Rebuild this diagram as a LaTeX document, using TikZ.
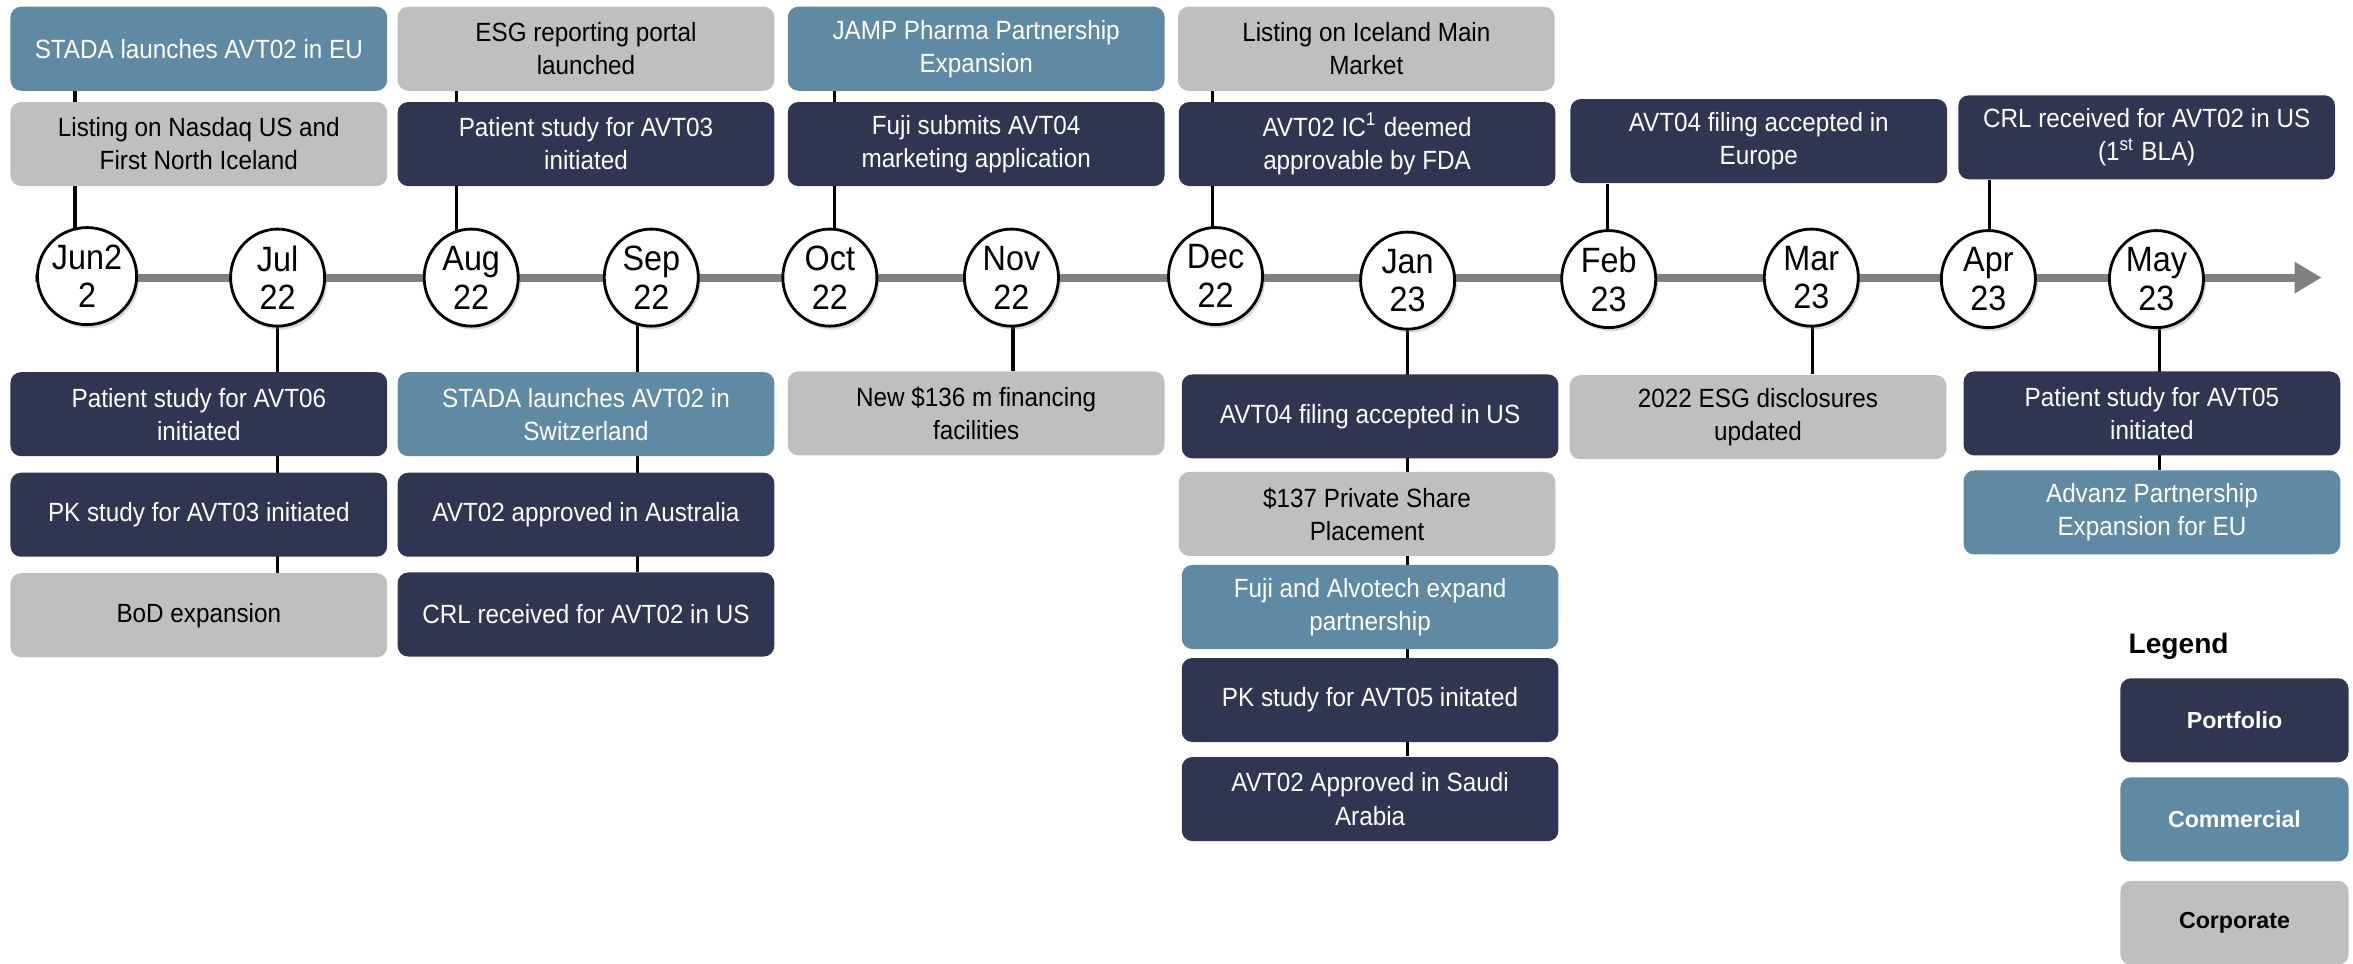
\documentclass[tikz,border=0pt]{standalone}
\usepackage{fontspec}
\setmainfont{Liberation Sans}
\newfontfamily\condfont[FakeStretch=0.92]{Liberation Sans}
\usepackage{tikz}
\usetikzlibrary{shapes.geometric, shadows, backgrounds, arrows.meta}
\definecolor{portfolio}{RGB}{48,53,82}
\definecolor{commercial}{RGB}{96,138,163}
\definecolor{corporate}{RGB}{191,191,191}
\definecolor{axisgray}{RGB}{128,128,128}

\begin{document}
\begin{tikzpicture}[%
x=0.015cm, y=-0.015cm,
event/.style={rounded corners=3pt, minimum width=3.765cm, minimum height=0.84cm,
    inner sep=0pt, align=center, font=\condfont\fontsize{7.5}{9.4}\selectfont},
port/.style={event, fill=portfolio, text=white},
comm/.style={event, fill=commercial, text=white},
corp/.style={event, fill=corporate, text=black},
month/.style={ellipse, draw=black, line width=0.8pt, fill=white, inner sep=0pt,
    minimum width=0.94cm, minimum height=0.97cm, align=center,
    font=\condfont\fontsize{10}{11}\selectfont,
    drop shadow={shadow xshift=0.025cm, shadow yshift=-0.035cm, opacity=0.3}},
link/.style={line width=0.9pt},
timeline/.style={line width=2.3pt, axisgray, -{Triangle[length=0.27cm,width=0.3cm]}},
key/.style={rounded corners=3pt, minimum width=2.28cm, minimum height=0.84cm,
    inner sep=0pt, font=\fontsize{6.6}{8}\selectfont\bfseries}]
\useasboundingbox (0,0) rectangle (1568,642);

\node[month] (jun) at (58,184) {Jun2\\2};
\node[month] (jul) at (185,185) {Jul\\22};
\node[month] (aug) at (314,185) {Aug\\22};
\node[month] (sep) at (434,185) {Sep\\22};
\node[month] (oct) at (553,185) {Oct\\22};
\node[month] (nov) at (674,185) {Nov\\22};
\node[month] (dec) at (810,184) {Dec\\22};
\node[month] (jan) at (938,187) {Jan\\23};
\node[month] (feb) at (1072,186) {Feb\\23};
\node[month] (mar) at (1207,185) {Mar\\23};
\node[month] (apr) at (1325,186) {Apr\\23};
\node[month] (may) at (1437,186) {May\\23};

\node[comm] (stadaeu) at (132.5,32.5) {STADA launches AVT02 in EU};
\node[corp] (esgportal) at (390.5,32.5) {ESG reporting portal\\launched};
\node[comm] (jamp) at (650.5,32.5) {JAMP Pharma Partnership\\Expansion};
\node[corp] (iceland) at (910.5,32.5) {Listing on Iceland Main\\Market};
\node[corp] (nasdaq) at (132.5,96) {Listing on Nasdaq US and\\First North Iceland};
\node[port] (avtthree) at (390.5,96) {Patient study for AVT03\\initiated};
\node[port] (fujisub) at (650.5,96) {Fuji submits AVT04\\marketing application};
\node[port] (icone) at (911,96) {AVT02 IC\textsuperscript{1} deemed\\approvable by FDA};
\node[port] (avtfoureu) at (1172,94) {AVT04 filing accepted in\\Europe};
\node[port] (crlbla) at (1430.5,91.5) {CRL received for AVT02 in US\\(1\textsuperscript{st} BLA)};

\node[port] (avtsix) at (132.5,276) {Patient study for AVT06\\initiated};
\node[port] (pkthree) at (132.5,343) {PK study for AVT03 initiated};
\node[corp] (bod) at (132.5,410) {BoD expansion};
\node[comm] (stadach) at (390.5,276) {STADA launches AVT02 in\\Switzerland};
\node[port] (australia) at (390.5,343) {AVT02 approved in Australia};
\node[port] (crlus) at (390.5,409.5) {CRL received for AVT02 in US};
\node[corp] (financing) at (650.5,275.5) {New \$136 m financing\\facilities};
\node[port] (avtfourus) at (913,277.5) {AVT04 filing accepted in US};
\node[corp] (placement) at (911,342.5) {\$137 Private Share\\Placement};
\node[comm] (fujiexp) at (913,404.5) {Fuji and Alvotech expand\\partnership};
\node[port] (pkfive) at (913,466.5) {PK study for AVT05 initated};
\node[port] (saudi) at (913,532.5) {AVT02 Approved in Saudi\\Arabia};
\node[corp] (esgupd) at (1171.5,278) {2022 ESG disclosures\\updated};
\node[port] (avtfive) at (1434,275.5) {Patient study for AVT05\\initiated};
\node[comm] (advanz) at (1434,341.5) {Advanz Partnership\\Expansion for EU};

\node[anchor=west, inner sep=0pt, font=\fontsize{8}{9}\selectfont\bfseries] (legend) at (1418,431) {Legend};
\node[key, fill=portfolio, text=white] (keyport) at (1489,480) {Portfolio};
\node[key, fill=commercial, text=white] (keycomm) at (1489,546) {Commercial};
\node[key, fill=corporate, text=black] (keycorp) at (1489,615) {Corporate};

\begin{scope}[on background layer]
\coordinate (tlstart) at (23,185);
\coordinate (tlend) at (1547,185);
\draw[timeline] (tlstart) -- (tlend);
\foreach \m/\b/\dx in {jun/stadaeu/-8, aug/esgportal/-10, oct/jamp/3, dec/iceland/-2, feb/avtfoureu/-1, apr/crlbla/1}
  \draw[link] (\m.center) ++(\dx,0) coordinate (p) -- (p |- \b.south);
\foreach \m/\b/\dx in {jul/bod/0, sep/crlus/-9, nov/financing/1, jan/saudi/0, mar/esgupd/1, may/advanz/2}
  \draw[link] (\m.center) ++(\dx,0) coordinate (p) -- (p |- \b.north);
\end{scope}
\end{tikzpicture}
\end{document}
